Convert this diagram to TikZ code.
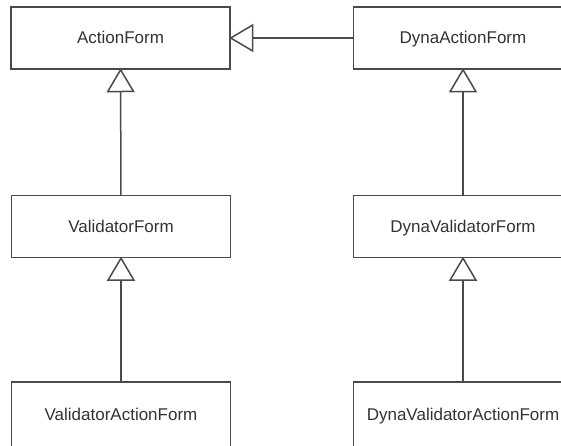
\documentclass[tikz,border=0pt]{standalone}
\usepackage{fontspec}
\setmainfont{Liberation Sans}
\usetikzlibrary{arrows.meta}
\definecolor{edge}{HTML}{4A4A4A}
\definecolor{label}{HTML}{333333}
\begin{document}
\begin{tikzpicture}[x=1pt,y=-1pt,
  cls/.style={draw=edge, line width=1.5pt, fill=white, minimum width=219pt,
    minimum height=62pt, inner sep=0pt, text=label, text height=13.5pt,
    text depth=2.5pt, font=\fontsize{17}{20}\selectfont},
  clsbottom/.style={cls, minimum height=66pt},
  inherit/.style={draw=edge, line width=1.5pt, shorten >=-1.5pt,
    -{Triangle[open, length=24pt, width=28pt, fill=white]}}]
\useasboundingbox (0,0) rectangle (561,445);
\clip (0,0) rectangle (561,445);
\fill[white] (0,0) rectangle (561,445);

% class boxes
\node[cls] (af)   at (120.5,38)  {ActionForm};
\node[cls] (daf)  at (463,38)    {DynaActionForm};
\node[cls] (vf)   at (121,226.5) {ValidatorForm};
\node[cls] (dvf)  at (463,226.5) {DynaValidatorForm};
\node[clsbottom] (vaf)  at (121,415)   {ValidatorActionForm};
\node[clsbottom] (dvaf) at (463,415)   {DynaValidatorActionForm};

% generalisation arrows
\draw[inherit] (daf) -- (af);
\draw[inherit] (vf) -- (af);
\draw[inherit] (dvf) -- (daf);
\draw[inherit] (vaf) -- (vf);
\draw[inherit] (dvaf) -- (dvf);
\end{tikzpicture}
\end{document}
